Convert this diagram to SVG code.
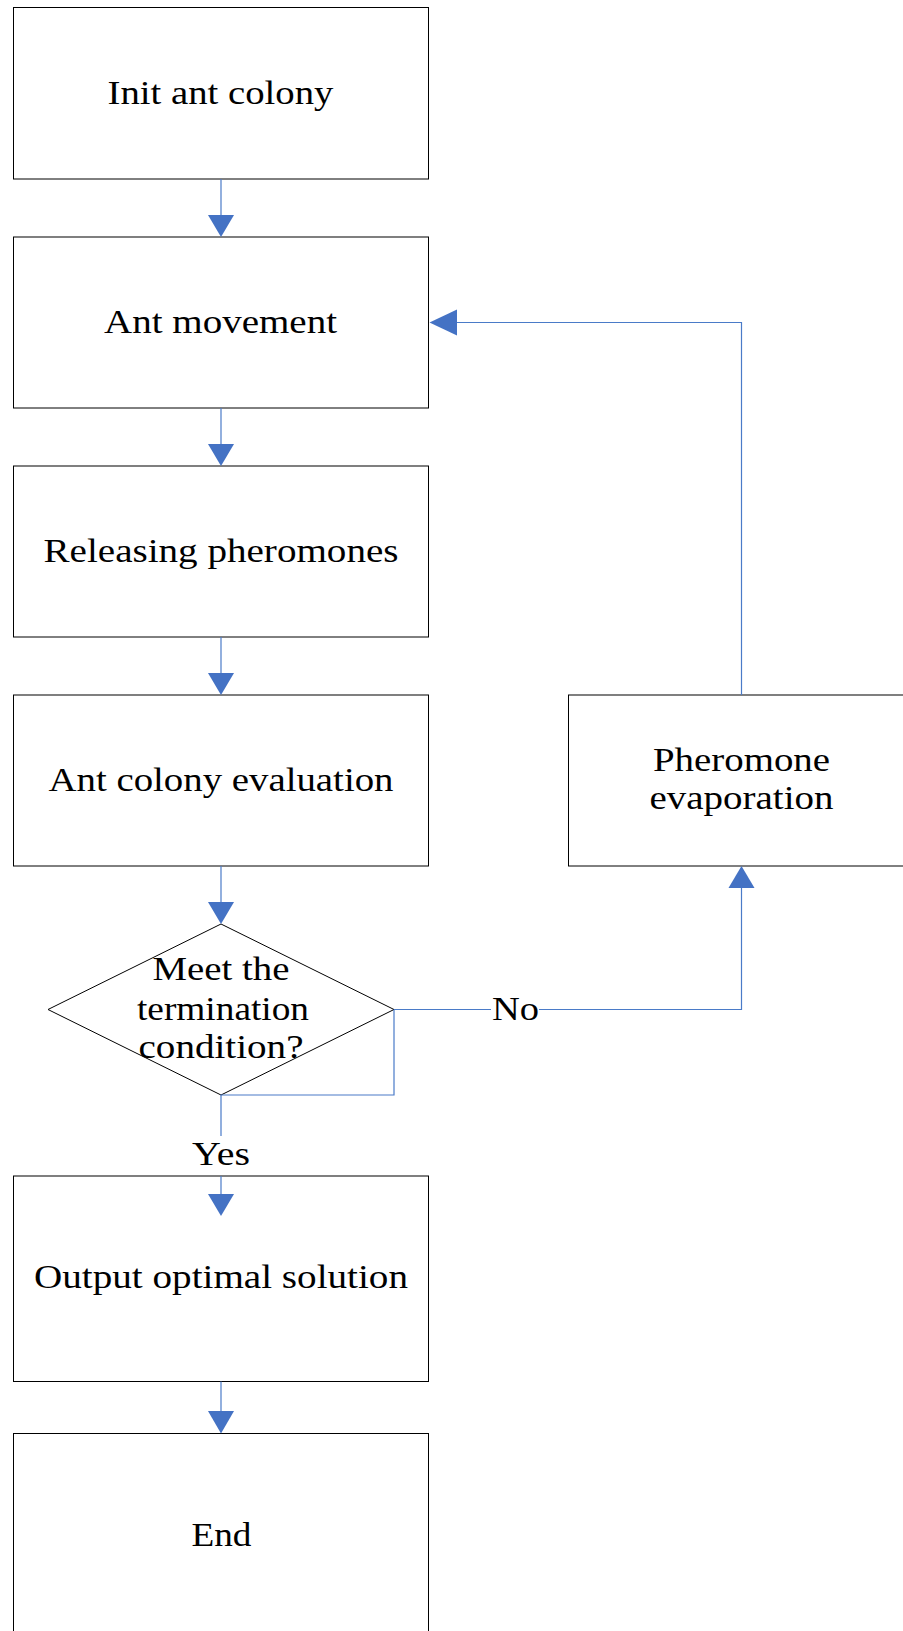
<svg xmlns="http://www.w3.org/2000/svg" width="903" height="1631" viewBox="0 0 903 1631">
<style>
.box{fill:#fff;stroke:#000;stroke-width:1}
.t{font-family:"Liberation Serif","Times New Roman",serif;font-size:33px;fill:#000;text-anchor:middle}
.c{fill:none;stroke:#4a7bc8;stroke-width:1.2}
.ah{fill:#4472c4;stroke:none}
</style>
<rect width="903" height="1631" fill="#fff"/>
<g id="init">
<rect class="box" x="13.5" y="7.5" width="415" height="171.5"/>
<text class="t" x="220.5" y="103.5" textLength="226" lengthAdjust="spacingAndGlyphs">Init ant colony</text>
</g>
<g id="move">
<rect class="box" x="13.5" y="237" width="415" height="171"/>
<text class="t" x="220.5" y="332.5" textLength="233" lengthAdjust="spacingAndGlyphs">Ant movement</text>
</g>
<g id="release">
<rect class="box" x="13.5" y="466" width="415" height="171"/>
<text class="t" x="221" y="562" textLength="355" lengthAdjust="spacingAndGlyphs">Releasing pheromones</text>
</g>
<g id="eval">
<rect class="box" x="13.5" y="695" width="415" height="171"/>
<text class="t" x="221" y="791" textLength="345" lengthAdjust="spacingAndGlyphs">Ant colony evaluation</text>
</g>
<g id="decision">
<polygon points="221,924 394,1009.5 221,1095 48,1009.5" fill="#fff" stroke="#000" stroke-width="1"/>
<text class="t" x="221" y="980" textLength="137" lengthAdjust="spacingAndGlyphs">Meet the</text>
<text class="t" x="223" y="1019.5" textLength="172" lengthAdjust="spacingAndGlyphs">termination</text>
<text class="t" x="221" y="1058" textLength="165" lengthAdjust="spacingAndGlyphs">condition?</text>
</g>
<g id="output">
<rect class="box" x="13.5" y="1176" width="415" height="205.5"/>
<text class="t" x="221" y="1288" textLength="374" lengthAdjust="spacingAndGlyphs">Output optimal solution</text>
</g>
<g id="end">
<rect class="box" x="13.5" y="1433.5" width="415" height="210"/>
<text class="t" x="221.5" y="1546" textLength="60" lengthAdjust="spacingAndGlyphs">End</text>
</g>
<g id="evap">
<rect class="box" x="568.5" y="695" width="345" height="171"/>
<text class="t" x="741.5" y="771" textLength="177" lengthAdjust="spacingAndGlyphs">Pheromone</text>
<text class="t" x="741.5" y="808.5" textLength="184" lengthAdjust="spacingAndGlyphs">evaporation</text>
</g>
<g id="connectors">
<path class="c" d="M221,179 V216"/>
<polygon class="ah" points="208,215 234,215 221,237"/>
<path class="c" d="M221,408 V445"/>
<polygon class="ah" points="208,444 234,444 221,466"/>
<path class="c" d="M221,637 V674"/>
<polygon class="ah" points="208,673 234,673 221,695"/>
<path class="c" d="M221,866 V903"/>
<polygon class="ah" points="208,902 234,902 221,924"/>
<path class="c" d="M394,1009.5 V1095 H221 V1136"/>
<text class="t" x="221" y="1165" textLength="58" lengthAdjust="spacingAndGlyphs">Yes</text>
<path class="c" d="M221,1176 V1196"/>
<polygon class="ah" points="208,1194 234,1194 221,1216"/>
<path class="c" d="M221,1381.5 V1412"/>
<polygon class="ah" points="208,1411 234,1411 221,1433.5"/>
<path class="c" d="M394,1009.5 H491 M539,1009.5 H741.5 V888"/>
<text class="t" x="515.5" y="1020" textLength="47" lengthAdjust="spacingAndGlyphs">No</text>
<polygon class="ah" points="728.5,888 754.5,888 741.5,866"/>
<path class="c" d="M741.5,695 V322.5 H456"/>
<polygon class="ah" points="457,309.5 457,335.5 429.5,322.5"/>
</g>
</svg>
